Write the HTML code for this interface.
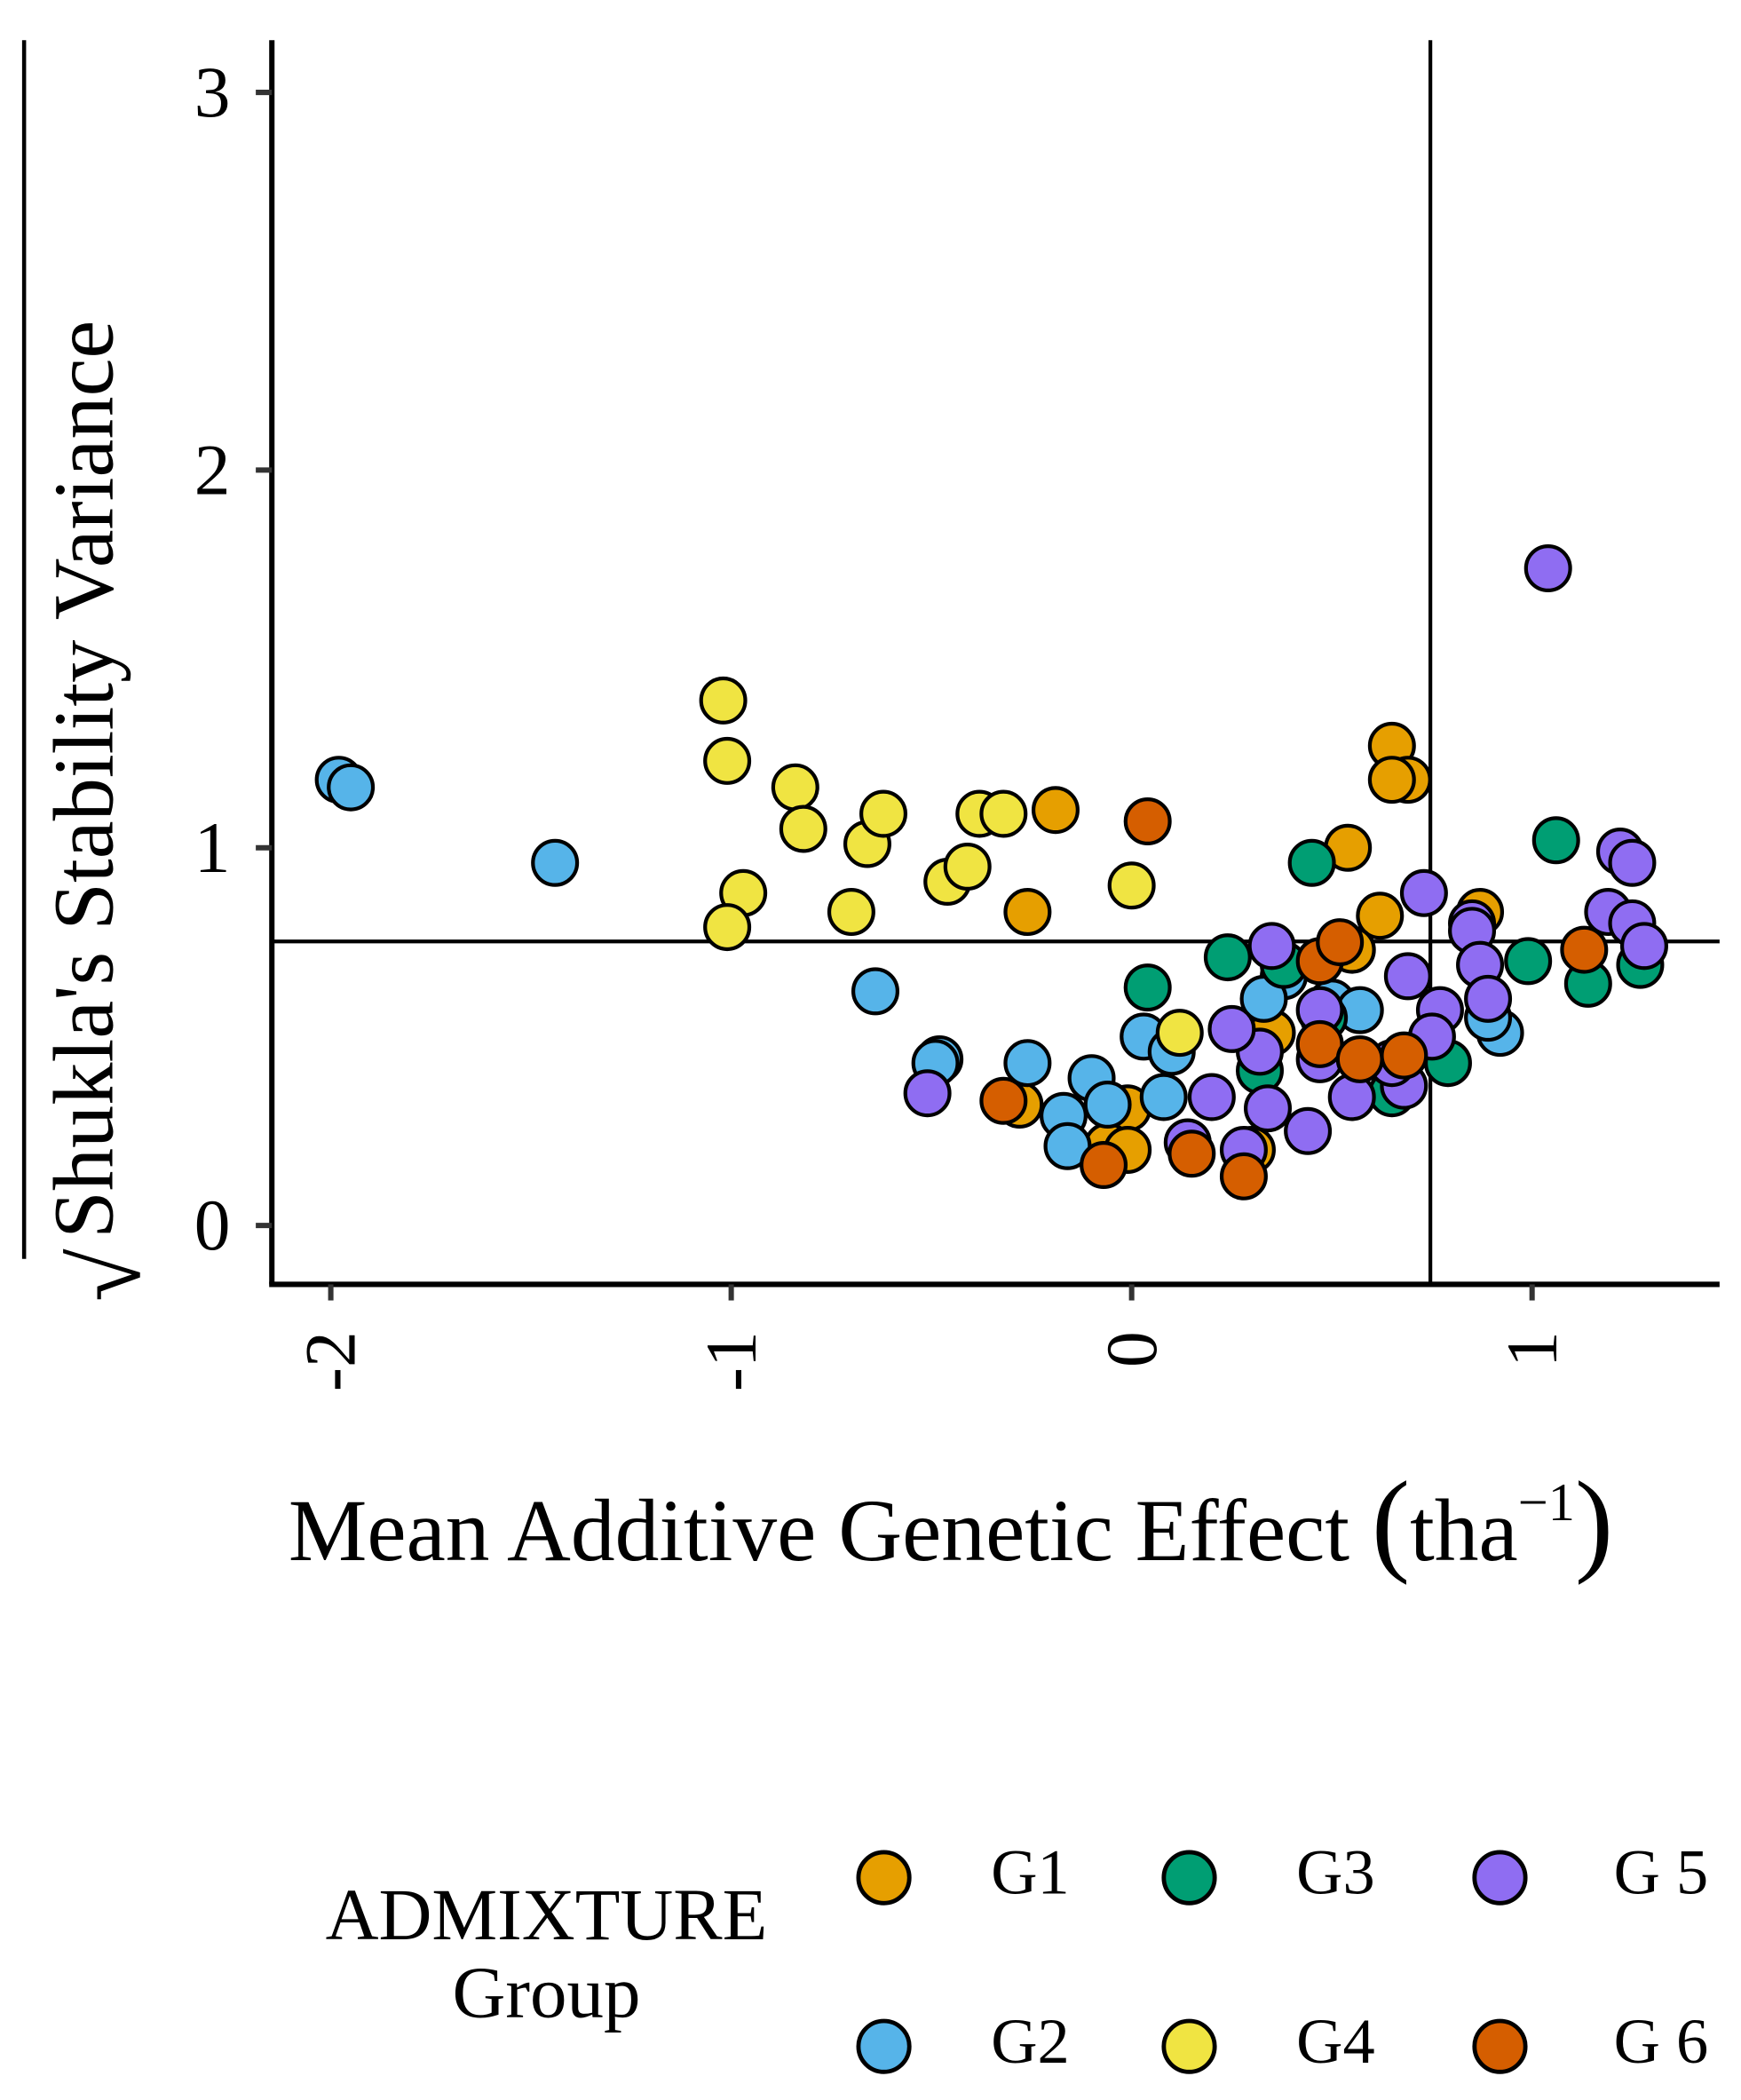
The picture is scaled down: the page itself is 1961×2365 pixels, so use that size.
<!DOCTYPE html>
<html><head><meta charset="utf-8"><style>html,body{margin:0;padding:0;background:#fff}svg{display:block}</style></head>
<body>
<svg id="chart" width="1961" height="2365" viewBox="0 0 1300 1568" preserveAspectRatio="none" xmlns="http://www.w3.org/2000/svg" font-family="'Liberation Serif', serif">
<g id="axes"></g>
<g id="points"></g>
<g id="legend"></g>
</svg>
<script>
const groups = ["G1","G2","G3","G4","G5","G6"];
const legendLabels = ["G1","G2","G3","G4","G 5","G 6"];
const colors = ["#E69F00","#56B4E9","#009E73","#F0E442","#8F6DF2","#D55E00"];
const xTicks = [-2,-1,0,1];
const yTicks = [0,1,2,3];
const hRef = 0.752;
const vRef = 0.746;
const g1x = [-0.19,-0.26,0.65,0.69,0.65,0.54,0.62,0.87,0.35,-0.01,-0.06,-0.01,0.30,-0.28,0.55];
const g1y = [1.10,0.83,1.27,1.18,1.18,1.00,0.82,0.83,0.51,0.31,0.21,0.20,0.20,0.32,0.73];
const g2x = [-1.98,-1.95,-1.44,-0.64,-0.48,-0.49,-0.26,-0.17,-0.16,-0.10,-0.06,0.03,0.10,0.08,0.50,0.57,0.92,0.89,0.38,0.33];
const g2y = [1.18,1.16,0.96,0.62,0.44,0.43,0.43,0.29,0.21,0.39,0.32,0.50,0.46,0.34,0.59,0.57,0.51,0.55,0.66,0.60];
const g3x = [0.45,0.24,0.04,1.06,0.99,1.14,1.27,0.32,0.79,0.38,0.65,0.48];
const g3y = [0.96,0.71,0.63,1.02,0.70,0.64,0.69,0.41,0.43,0.69,0.35,0.55];
const g4x = [-1.02,-1.01,-0.84,-0.82,-0.66,-0.62,-0.97,-1.01,-0.70,-0.46,-0.41,-0.38,-0.32,0.00,0.12];
const g4y = [1.39,1.23,1.16,1.05,1.01,1.09,0.88,0.79,0.83,0.91,0.95,1.09,1.09,0.90,0.51];
const g5x = [1.04,1.22,1.25,1.19,1.25,1.28,0.73,0.85,0.85,0.87,0.89,0.77,0.69,0.68,0.47,0.47,0.55,0.35,0.32,0.34,0.28,0.20,0.14,0.25,0.44,-0.51,0.65,0.75];
const g5y = [1.74,0.99,0.96,0.83,0.80,0.74,0.88,0.80,0.78,0.69,0.60,0.57,0.66,0.37,0.57,0.44,0.34,0.74,0.46,0.31,0.20,0.34,0.22,0.52,0.25,0.35,0.43,0.50];
const g6x = [0.04,-0.32,-0.07,0.15,0.28,0.47,0.52,0.47,0.57,0.68,1.13];
const g6y = [1.07,0.33,0.16,0.19,0.13,0.70,0.75,0.48,0.44,0.45,0.73];
const seriesX = [g1x,g2x,g3x,g4x,g5x,g6x];
const seriesY = [g1y,g2y,g3y,g4y,g5y,g6y];

const NS = "http://www.w3.org/2000/svg";
const X = v => 845 + v*299;
const Y = v => 915 - v*282;
function mk(tag, attrs, parent, text){
  const e = document.createElementNS(NS, tag);
  for (const k in attrs) e.setAttribute(k, attrs[k]);
  if (text !== undefined) e.textContent = text;
  parent.appendChild(e); return e;
}
const axes = document.getElementById('axes');
const pts = document.getElementById('points');
const leg = document.getElementById('legend');

let e;
e = mk('line',{x1:203,y1:30,x2:203,y2:959,stroke:'#000','stroke-width':4},axes);


e = mk('line',{x1:201,y1:959,x2:1284,y2:959,stroke:'#000','stroke-width':4},axes);


yTicks.forEach(t=>{
  e = mk('line',{x1:191,y1:Y(t),x2:203,y2:Y(t),stroke:'#333','stroke-width':4},axes);
  
  
  e = mk('text',{x:172,y:Y(t)+18,'font-size':54,'text-anchor':'end',fill:'#000'},axes,String(t));
  
  
});
xTicks.forEach(t=>{
  e = mk('line',{x1:X(t),y1:959,x2:X(t),y2:971,stroke:'#333','stroke-width':4},axes);
  
  
  e = mk('text',{x:0,y:0,'font-size':54,'text-anchor':'end',fill:'#000',transform:`translate(${X(t)+18},${994}) rotate(-90)`},axes,String(t));
  
  
});
e = mk('text',{x:0,y:0,'font-size':64,'text-anchor':'middle',fill:'#000',transform:'translate(84,582) rotate(-90)'},axes,"Shukla's Stability Variance");


e = mk('text',{x:0,y:0,'font-size':72,'text-anchor':'start',fill:'#000',transform:'translate(104,972) rotate(-90)'},axes,"√");


e = mk('line',{x1:18,y1:30,x2:18,y2:940,stroke:'#000','stroke-width':3},axes);


const xt = mk('text',{x:710,y:1165,'font-size':66,'text-anchor':'middle',fill:'#000'},axes);


mk('tspan',{},xt,'Mean Additive Genetic Effect ');
mk('tspan',{'font-size':86},xt,'(');
mk('tspan',{},xt,'tha');
mk('tspan',{'font-size':40,dy:-30},xt,'−1');
mk('tspan',{'font-size':86,dy:30},xt,')');

// points
groups.forEach((g,gi)=>{
  seriesX[gi].forEach((v,i)=>{
    e = mk('circle',{cx:X(v),cy:Y(seriesY[gi][i]),r:16.5,fill:colors[gi],stroke:'#000','stroke-width':2.8},pts);
    
    
  });
});
e = mk('line',{x1:203,y1:Y(hRef),x2:1284,y2:Y(hRef),stroke:'#000','stroke-width':2.8},axes);


e = mk('line',{x1:X(vRef),y1:30,x2:X(vRef),y2:959,stroke:'#000','stroke-width':2.8},axes);



// legend
e = mk('text',{x:408,y:1448,'font-size':55,'text-anchor':'middle',fill:'#000'},leg,'ADMIXTURE');


e = mk('text',{x:408,y:1506,'font-size':55,'text-anchor':'middle',fill:'#000'},leg,'Group');


const lx = [660,888,1120], ly=[1402,1528], tx=[740,968,1205];
groups.forEach((g,gi)=>{
  const col = Math.floor(gi/2), row = gi%2;
  e = mk('circle',{cx:lx[col],cy:ly[row],r:19,fill:colors[gi],stroke:'#000','stroke-width':3.2},leg);
  
  
  e = mk('text',{x:tx[col],y:ly[row]+12,'font-size':48,fill:'#000'},leg,legendLabels[gi]);
  
  
});
</script>
</body></html>
